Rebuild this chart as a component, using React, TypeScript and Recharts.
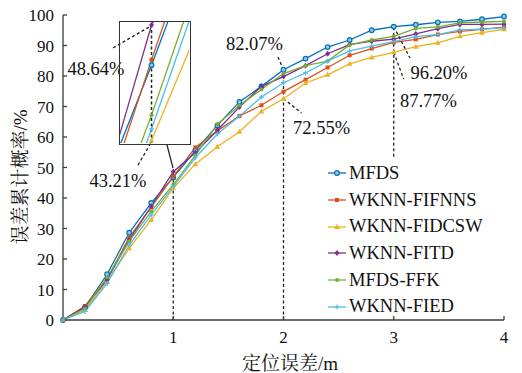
import React from 'react';
import { LineChart, Line, XAxis, YAxis, ReferenceLine, ReferenceDot, Legend } from 'recharts';

const xValues = [0, 0.2, 0.4, 0.6, 0.8, 1, 1.2, 1.4, 1.6, 1.8, 2, 2.2, 2.4, 2.6, 2.8, 3, 3.2, 3.4, 3.6, 3.8, 4];
const mfds = [0, 4.2, 15.0, 28.6, 38.4, 46.75, 55.5, 63.8, 71.5, 76.6, 82.07, 85.7, 89.5, 91.8, 95.0, 96.2, 96.8, 97.6, 97.9, 98.6, 99.5];
const wknnFifnns = [0, 4.6, 13.5, 27.0, 37.0, 47.0, 56.6, 62.0, 66.9, 70.4, 74.9, 78.8, 82.8, 86.8, 89.0, 91.0, 92.0, 93.6, 94.6, 95.3, 96.0];
const wknnFidcsw = [0, 3.3, 12.6, 23.5, 32.8, 43.21, 51.1, 56.8, 61.7, 68.4, 72.55, 77.7, 80.4, 84.0, 86.1, 87.77, 89.6, 90.9, 93.0, 94.2, 95.3];
const wknnFitd = [0, 4.3, 13.2, 26.2, 37.3, 48.64, 54.8, 62.2, 69.8, 76.6, 79.8, 83.4, 87.3, 90.3, 91.4, 92.1, 93.8, 95.5, 96.9, 96.9, 97.0];
const mfdsFfk = [0, 3.8, 14.0, 25.8, 35.6, 44.4, 54.0, 64.2, 70.3, 75.6, 80.8, 83.4, 84.9, 90.2, 91.8, 93.0, 95.6, 96.1, 97.4, 97.7, 97.9];
const wknnFied = [0, 2.8, 12.0, 24.5, 34.5, 43.75, 53.2, 61.0, 66.8, 73.1, 77.8, 81.0, 84.9, 88.2, 89.8, 91.3, 92.9, 93.6, 95.1, 95.4, 95.8];

const seriesNames = ['MFDS', 'WKNN-FIFNNS', 'WKNN-FIDCSW', 'WKNN-FITD', 'MFDS-FFK', 'WKNN-FIED'];
const seriesValues = [mfds, wknnFifnns, wknnFidcsw, wknnFitd, mfdsFfk, wknnFied];
const seriesColors = ['#0072BD', '#D95319', '#EDB120', '#7E2F8E', '#77AC30', '#4DBEEE'];
const seriesMarkers = ['circle', 'square', 'triangle', 'diamond', 'dot', 'plus'];

const xTicks = [1, 2, 3, 4];
const yTicks = [0, 10, 20, 30, 40, 50, 60, 70, 80, 90, 100];

const xAxisTitle = '定位误差/m';
const yAxisTitle = '误差累计概率/%';

// vertical guide lines (x, from y, to y)
const guideX = [1, 2, 3];
const guideFrom = [0, 0, 53.5];
const guideTo = [48.64, 82.07, 96.2];

// callouts: text, label position, leader start, leader end (data coordinates)
const calloutTexts = ['82.07%', '72.55%', '96.20%', '87.77%', '48.64%', '43.21%'];
const calloutLabelPos = [[1.737, 90.8], [2.345, 63.0], [3.41, 81.3], [3.315, 72.1], [0.299, 82.6], [0.499, 45.9]];
const calloutLeaderFrom = [[1.95, 86.2], [2, 72.55], [3, 96.2], [3, 87.77], [0.454, 89.2], [0.68, 50.8]];
const calloutLeaderTo = [[2, 82.07], [2.163, 67.9], [3.147, 85.9], [3.09, 79.0], [0.812, 96.7], [0.812, 59.0]];
const insetPointer = [[0.943, 57.4], [0.998, 49.8]];

const insetXDomain = [0.91, 1.107];
const insetYDomain = [43.09, 48.78];

const data = xValues.map((x, i) => {
  const row: any = { x };
  seriesValues.forEach((vals, s) => {
    row['s' + s] = vals[i];
  });
  return row;
});

const FONT = '"Liberation Serif", Tinos, "Times New Roman", "DejaVu Serif", serif';
const CJK_FONT = '"Liberation Serif", Tinos, "Times New Roman", "Noto Serif CJK SC", "Noto Sans CJK SC", serif';

function Marker({ cx, cy, shape, color }: { cx: number; cy: number; shape: string; color: string }) {
  if (cx == null || cy == null || isNaN(cx) || isNaN(cy)) return null;
  switch (shape) {
    case 'circle':
      return <circle cx={cx} cy={cy} r={2.3} fill="#9cc3e6" stroke={color} strokeWidth={1.2} />;
    case 'square':
      return <rect x={cx - 2} y={cy - 2} width={4} height={4} fill={color} />;
    case 'triangle':
      return <path d={`M${cx},${cy - 3}L${cx + 2.8},${cy + 2}L${cx - 2.8},${cy + 2}Z`} fill={color} />;
    case 'diamond':
      return <path d={`M${cx},${cy - 3}L${cx + 2.5},${cy}L${cx},${cy + 3}L${cx - 2.5},${cy}Z`} fill={color} />;
    case 'dot':
      return <circle cx={cx} cy={cy} r={2} fill={color} />;
    case 'plus':
      return (
        <path
          d={`M${cx - 2.5},${cy}H${cx + 2.5}M${cx},${cy - 2.5}V${cy + 2.5}`}
          stroke={color}
          strokeWidth={1.2}
        />
      );
    default:
      return null;
  }
}

const renderLegend = () => (
  <div style={{ fontFamily: FONT, fontSize: 18.5, color: '#111' }}>
    {seriesNames.map((n, i) => (
      <div key={n} style={{ height: 26.7, display: 'flex', alignItems: 'center', whiteSpace: 'nowrap' }}>
        <svg width={20} height={10} style={{ display: 'block' }}>
          <line x1={1} y1={5} x2={19} y2={5} stroke={seriesColors[i]} strokeWidth={1.3} />
          <Marker cx={10} cy={5} shape={seriesMarkers[i]} color={seriesColors[i]} />
        </svg>
        <span style={{ marginLeft: 2 }}>{n}</span>
      </div>
    ))}
  </div>
);

const axisColor = '#3a3a3a';
const dashColor = '#222';

export default function App() {
  return (
    <div style={{ position: 'absolute', left: 0, top: 0, width: 522, height: 373, background: '#fff', fontFamily: FONT }}>
      <LineChart width={522} height={373} data={data} margin={{ top: 15, right: 18, bottom: 0, left: 0 }} style={{ fontFamily: FONT }}>
        <XAxis
          dataKey="x"
          type="number"
          domain={[0, 4]}
          ticks={xTicks}
          height={53}
          tickSize={-4}
          tickMargin={15}
          stroke={axisColor}
          strokeWidth={1.3}
          tick={{ fill: '#111', fontSize: 17, fontFamily: FONT }}
          label={{
            content: () => (
              <text x={290} y={363} textAnchor="middle" dominantBaseline="central" fontSize={19} fill="#111" style={{ fontFamily: CJK_FONT }}>
                {xAxisTitle}
              </text>
            ),
          }}
        />
        <YAxis
          type="number"
          domain={[0, 100]}
          ticks={yTicks}
          width={63}
          tickSize={-4}
          tickMargin={13}
          stroke={axisColor}
          strokeWidth={1.3}
          interval={0}
          tick={{ fill: '#111', fontSize: 17, fontFamily: FONT }}
          label={{
            content: () => (
              <text
                x={20}
                y={177}
                transform="rotate(-90 20 177)"
                textAnchor="middle"
                dominantBaseline="central"
                fontSize={19}
                fill="#111"
                style={{ fontFamily: CJK_FONT }}
              >
                {yAxisTitle}
              </text>
            ),
          }}
        />
        {guideX.map((gx, i) => (
          <ReferenceLine
            key={'g' + i}
            segment={[{ x: gx, y: guideFrom[i] }, { x: gx, y: guideTo[i] }]}
            stroke={dashColor}
            strokeWidth={1.3}
            strokeDasharray="3 2.5"
            ifOverflow="visible"
          />
        ))}
        {seriesNames.map((n, i) => (
          <Line
            key={n}
            name={n}
            dataKey={'s' + i}
            stroke={seriesColors[i]}
            strokeWidth={1.3}
            isAnimationActive={false}
            dot={(p: any) => (
              <Marker key={`${n}-${p.index}`} cx={p.cx} cy={p.cy} shape={seriesMarkers[i]} color={seriesColors[i]} />
            )}
            activeDot={false}
          />
        ))}
        {calloutTexts.map((t, i) => (
          <ReferenceLine
            key={'l' + i}
            segment={[
              { x: calloutLeaderFrom[i][0], y: calloutLeaderFrom[i][1] },
              { x: calloutLeaderTo[i][0], y: calloutLeaderTo[i][1] },
            ]}
            stroke={dashColor}
            strokeWidth={1.3}
            strokeDasharray="3 2.5"
            ifOverflow="visible"
          />
        ))}
        <ReferenceLine
          segment={[
            { x: insetPointer[0][0], y: insetPointer[0][1] },
            { x: insetPointer[1][0], y: insetPointer[1][1] },
          ]}
          stroke={dashColor}
          strokeWidth={1.3}
          ifOverflow="visible"
        />
        {calloutTexts.map((t, i) => (
          <ReferenceDot
            key={'t' + i}
            x={calloutLabelPos[i][0]}
            y={calloutLabelPos[i][1]}
            r={1}
            fill="none"
            stroke="none"
            ifOverflow="visible"
            label={{ value: t, position: 'center', fontSize: 18.5, fill: '#111', fontFamily: FONT }}
          />
        ))}
        <Legend
          layout="vertical"
          align="center"
          verticalAlign="middle"
          content={renderLegend}
          wrapperStyle={{ left: 327, top: 160, width: 185 }}
        />
      </LineChart>
      <div
        style={{
          position: 'absolute',
          left: 118.5,
          top: 20.5,
          width: 72,
          height: 124,
          border: '1.5px solid #333',
          boxSizing: 'border-box',
        }}
      >
        <LineChart width={69} height={121} data={data} margin={{ top: 0, right: 0, bottom: 0, left: 0 }}>
          <XAxis dataKey="x" type="number" domain={insetXDomain} allowDataOverflow hide />
          <YAxis type="number" domain={insetYDomain} allowDataOverflow hide width={0} />
          {seriesNames.map((n, i) => (
            <Line
              key={n}
              dataKey={'s' + i}
              stroke={seriesColors[i]}
              strokeWidth={1.3}
              isAnimationActive={false}
              dot={(p: any) => (
                <Marker key={`in-${n}-${p.index}`} cx={p.cx} cy={p.cy} shape={seriesMarkers[i]} color={seriesColors[i]} />
              )}
              activeDot={false}
            />
          ))}
          <ReferenceLine x={1} stroke={dashColor} strokeWidth={1.5} strokeDasharray="3 2.5" />
        </LineChart>
      </div>
    </div>
  );
}
